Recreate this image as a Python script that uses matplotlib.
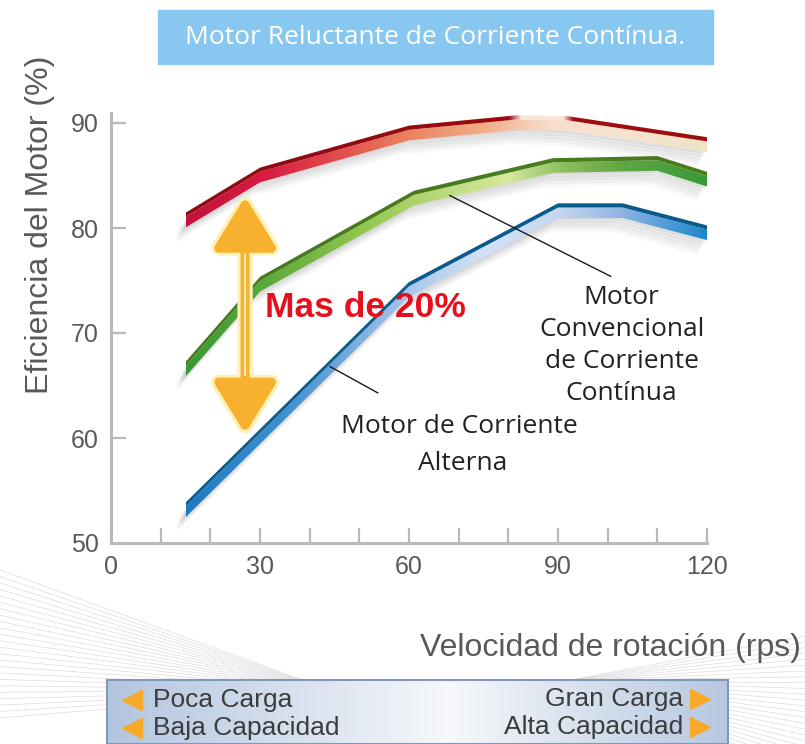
import numpy as np
import matplotlib.pyplot as plt
from matplotlib.colors import LinearSegmentedColormap
from matplotlib.patches import Rectangle

# efficiency curves (x = rps, y = %)
speed_red = [15, 30, 60, 82, 92, 120]
eff_red = [81.0, 85.3, 89.3, 90.3, 90.2, 88.2]
speed_green = [15, 30, 61, 89, 110, 120]
eff_green = [66.8, 74.9, 83.1, 86.2, 86.4, 84.9]
speed_blue = [15, 60, 90, 103, 120]
eff_blue = [53.4, 74.4, 81.9, 81.9, 79.8]

x_ticks = [0, 30, 60, 90, 120]
x_minor = [10, 20, 40, 50, 70, 80, 100, 110]
y_ticks = [50, 60, 70, 80, 90]

TITLE = "Motor Reluctante de Corriente Contínua."
GRAY = "#595959"
AXCOL = "#b9b9b9"

W, H = 805, 744


def fx(px):
    return px / W


def fy(py):
    return 1 - py / H


def grad_cmap(xs, stops):
    x0, x1 = xs[0], xs[-1]
    return LinearSegmentedColormap.from_list(
        "g", [((x - x0) / (x1 - x0), c) for x, c in stops])


def ribbon(ax, xs, ys, face_stops, edge_stops, z):
    xs = np.array(xs, dtype=float)
    ys = np.array(ys, dtype=float)
    # soft drop shadow
    for k, a in enumerate([0.07, 0.06, 0.05, 0.04, 0.03]):
        ax.fill_between(xs - 0.5 - 0.35 * k, ys - 1.1 - 0.3 * k, ys - 0.3 - 0.3 * k,
                        color="#303030", alpha=a, lw=0, zorder=z)
    g = np.linspace(0, 1, 256).reshape(1, -1)
    ext = [xs[0], xs[-1], ys.min() - 3, ys.max() + 2]
    # front face
    face = ax.fill_between(xs, ys - 0.95, ys + 0.05, color="none", lw=0, zorder=z + 1)
    im = ax.imshow(g, cmap=grad_cmap(xs, face_stops), extent=ext, aspect="auto",
                   interpolation="bilinear", zorder=z + 1)
    im.set_clip_path(face.get_paths()[0], transform=ax.transData)
    # top edge
    edge = ax.fill_between(xs, ys + 0.05, ys + 0.45, color="none", lw=0, zorder=z + 2)
    im2 = ax.imshow(g, cmap=grad_cmap(xs, edge_stops), extent=ext, aspect="auto",
                    interpolation="bilinear", zorder=z + 2)
    im2.set_clip_path(edge.get_paths()[0], transform=ax.transData)


fig = plt.figure(figsize=(W / 100, H / 100), dpi=100)
fig.patch.set_facecolor("white")

# decorative swoosh lines in the background (pixel coordinates)
bg = fig.add_axes([0, 0, 1, 1], zorder=-5)
bg.set_xlim(0, W)
bg.set_ylim(H, 0)
bg.axis("off")
for y0 in np.linspace(570, 718, 24):
    bg.plot([0, 330], [y0, 690], color="#dcdcdc", lw=0.5)
for y1 in np.linspace(636, 770, 24):
    bg.plot([565, W], [681, y1], color="#dcdcdc", lw=0.5)

ax = fig.add_axes([fx(111), fy(543), fx(707) - fx(111), fy(112.5) - fy(543)])
ax.set_facecolor("none")

ribbon(ax, speed_blue, eff_blue,
       [(15, "#1d7cbf"), (35, "#3f8fd0"), (60, "#a9c6ec"), (75, "#d3e2f6"),
        (90, "#c4d6f1"), (102, "#93b6e3"), (110, "#5da3dc"), (120, "#1b86c6")],
       [(15, "#0c5e8e"), (120, "#0a5a8a")], 3)
ribbon(ax, speed_green, eff_green,
       [(15, "#389a34"), (30, "#58a83a"), (50, "#93c54c"), (70, "#c2de86"),
        (80, "#d6e89c"), (90, "#90c262"), (102, "#62a744"), (120, "#379a36")],
       [(15, "#467a1c"), (120, "#4a7d1e")], 6)
ribbon(ax, speed_red, eff_red,
       [(15, "#c3123c"), (30, "#d71a40"), (45, "#e24a4c"), (60, "#eb8460"),
        (75, "#f2ad88"), (88, "#f9dcc8"), (100, "#f7e3d2"), (120, "#efe2c6")],
       [(15, "#8f0a14"), (80, "#9a0c0c"), (82.5, "#f6e6dc"), (91, "#f6e6dc"),
        (93, "#a00e0e"), (120, "#9c1010")], 9)

# double-headed golden arrow
arr_kw = dict(arrowstyle="<|-|>,head_length=1.55,head_width=0.95", mutation_scale=20,
              shrinkA=0, shrinkB=0)
ax.annotate("", xy=(27, 83.6), xytext=(27, 59.8),
            arrowprops=dict(lw=11, color="#fff0b8", **arr_kw), zorder=12)
ax.annotate("", xy=(27, 83.0), xytext=(27, 60.4),
            arrowprops=dict(lw=6.5, color="#f6b12e", **arr_kw), zorder=13)
ax.plot([27, 27], [66, 77.5], color="#fde8a8", lw=1.6, zorder=14, solid_capstyle="round")

ax.text(31.0, 71.5, "Mas de 20%", color="#e60f1c", fontsize=25.5, fontweight="bold",
        family="Liberation Sans", ha="left", va="baseline", zorder=15)

# leader lines and labels
ax.plot([44.1, 53.7], [66.8, 64.3], color="#1a1a1a", lw=1.0, zorder=15)
ax.plot([68.2, 100.6], [83.1, 75.4], color="#1a1a1a", lw=1.0, zorder=15)
lab_kw = dict(family="Open Sans", fontsize=19, color="#222222", ha="center",
              va="baseline", zorder=15)
ax.text(70.2, 60.5, "Motor de Corriente", **lab_kw)
ax.text(70.8, 57.0, "Alterna", **lab_kw)
for txt, yy in [("Motor", 72.8), ("Convencional", 69.75),
                ("de Corriente", 66.7), ("Contínua", 63.65)]:
    ax.text(102.8, yy, txt, **lab_kw)

ax.set_xlim(0, 120)
ax.set_ylim(50, 91)
ax.set_xticks(x_ticks)
ax.set_xticks(x_minor, minor=True)
ax.set_yticks(y_ticks)
for s in ["top", "right"]:
    ax.spines[s].set_visible(False)
for s in ["left", "bottom"]:
    ax.spines[s].set_color(AXCOL)
    ax.spines[s].set_linewidth(2.2)
ax.tick_params(which="both", direction="in", length=11, width=1.6, color=AXCOL,
               labelsize=18, labelcolor=GRAY, pad=9)
for lab in ax.get_xticklabels() + ax.get_yticklabels():
    lab.set_family("Liberation Sans")

fig.text(fx(40), fy(225), "Eficiencia del Motor (%)", rotation=90, ha="center",
         va="center", fontsize=23, color=GRAY, family="Liberation Sans")
fig.text(fx(610), fy(648), "Velocidad de rotación (rps)", ha="center", va="center",
         fontsize=23, color=GRAY, family="Liberation Sans")

# title box
fig.add_artist(Rectangle((fx(158), fy(64)), fx(713) - fx(158), fy(10) - fy(64),
                         transform=fig.transFigure, color="#88c8f0", zorder=0))
fig.text(fx(435.5), fy(38), TITLE, ha="center", va="center", color="white",
         fontsize=19, family="Open Sans")

# bottom load box
bx = fig.add_axes([fx(107), 0, fx(728) - fx(107), fy(680)])
box_cmap = LinearSegmentedColormap.from_list(
    "box", [(0, "#b2c5df"), (0.55, "#f6f8fb"), (1, "#b6c8e0")])
bx.imshow(np.linspace(0, 1, 256).reshape(1, -1), cmap=box_cmap, aspect="auto",
          extent=[107, 728, 746, 680])
bx.set_xlim(107, 728)
bx.set_ylim(746, 680)
bx.set_xticks([])
bx.set_yticks([])
for s in bx.spines.values():
    s.set_color("#8298b8")
    s.set_linewidth(1.5)
box_kw = dict(fontsize=19, color="#3c3c3c", family="Liberation Sans", va="center")
bx.text(153, 701, "Poca Carga", ha="left", **box_kw)
bx.text(153, 729, "Baja Capacidad", ha="left", **box_kw)
bx.text(683, 700, "Gran Carga", ha="right", **box_kw)
bx.text(683, 728, "Alta Capacidad", ha="right", **box_kw)
bx.plot([132, 132], [701, 729], ls="none", marker="<", ms=15, color="#f7a92a")
bx.plot([700, 700], [700, 728], ls="none", marker=">", ms=15, color="#f7a92a")

fig.savefig("out.png", dpi=100)
